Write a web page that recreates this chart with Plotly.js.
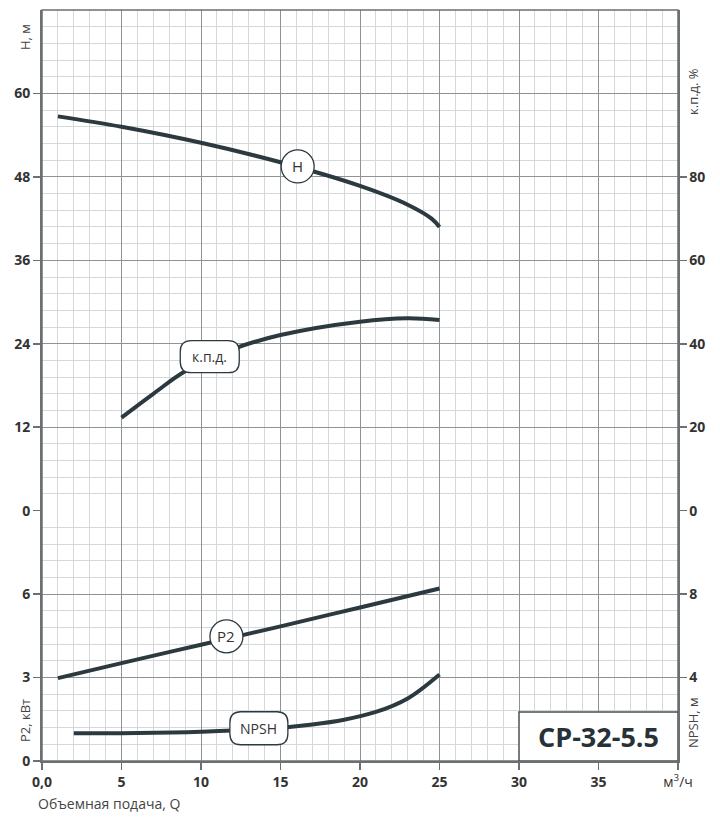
<!DOCTYPE html>
<html>
<head>
<meta charset="utf-8">
<script src="https://cdn.plot.ly/plotly-3.0.1.min.js"></script>
<style>
  html, body { margin: 0; padding: 0; background: #fff; }
  #chart { width: 720px; height: 820px; }
</style>
</head>
<body>
<div id="chart"></div>
<script>
// ---- data ----
const qH   = [1, 5, 10, 15, 20, 23, 24.5, 25];
const H    = [56.7, 55.2, 52.9, 50.1, 46.7, 44.0, 42.0, 40.8];

const qEff = [5, 7, 9, 12, 15, 20, 23, 25];
const eff  = [22.3, 28.0, 33.4, 38.7, 42.1, 45.3, 46.1, 45.7];

const qP2  = [1, 5, 10, 15, 20, 25];
const P2   = [2.98, 3.52, 4.18, 4.84, 5.52, 6.2];

const qNp  = [2, 6, 10, 14, 17, 19, 21, 23, 25];
const npsh = [1.33, 1.34, 1.40, 1.53, 1.75, 1.98, 2.35, 3.0, 4.15];

const xTickVals = [0, 5, 10, 15, 20, 25, 30, 35, 40];
const xTickText = ['<b>0,0</b>', '<b>5</b>', '<b>10</b>', '<b>15</b>', '<b>20</b>', '<b>25</b>', '<b>30</b>', '<b>35</b>', 'м<sup>3</sup>/ч'];
const hTicks    = [0, 12, 24, 36, 48, 60];
const p2Ticks   = [0, 3, 6];
const effTicks  = [0, 20, 40, 60, 80];
const npshTicks = [4, 8];

const modelName = 'CP-32-5.5';

// ---- styles ----
const LINE = '#2c3a40';
const MAJOR = '#8e9395';
const MINOR = '#d3d8da';
const TXT = '#333333';
const FONT = 'Open Sans, Noto Sans, sans-serif';

function curve(x, y, yaxis) {
  return { x: x, y: y, xaxis: 'x', yaxis: yaxis, mode: 'lines', type: 'scatter',
           line: { color: LINE, width: 4, shape: 'spline', smoothing: 1 },
           hoverinfo: 'skip', showlegend: false };
}

const traces = [
  curve(qH, H, 'y'),
  curve(qEff, eff, 'y3'),
  curve(qP2, P2, 'y2'),
  curve(qNp, npsh, 'y4')
];

const tickFont = { family: FONT, size: 14, color: TXT, weight: 700 };

const layout = {
  width: 720, height: 820,
  margin: { l: 42, r: 42, t: 10, b: 59 },
  paper_bgcolor: '#fff', plot_bgcolor: '#fff',
  font: { family: FONT, color: TXT },
  xaxis: {
    range: [0, 40], tickmode: 'array', tickvals: xTickVals, ticktext: xTickText,
    tickfont: { family: FONT, size: 14, color: TXT },
    showgrid: true, gridcolor: MAJOR, gridwidth: 1, zeroline: false,
    ticks: 'outside', ticklen: 7, tickcolor: '#6b7073', tickwidth: 1.5,
    showline: true, linecolor: '#6b7073', linewidth: 2,
    minor: { tickmode: 'linear', tick0: 0, dtick: 1, showgrid: true, gridcolor: MINOR, gridwidth: 1, ticks: '' },
    anchor: 'y2', fixedrange: true
  },
  yaxis: {
    domain: [1/3, 1], range: [0, 72], tickmode: 'array', tickvals: hTicks,
    tickfont: tickFont, showgrid: true, gridcolor: MAJOR, zeroline: false,
    ticks: 'outside', ticklen: 7, tickcolor: '#6b7073', tickwidth: 1.5,
    showline: true, linecolor: '#6b7073', linewidth: 2,
    minor: { tickmode: 'linear', tick0: 0, dtick: 2.4, showgrid: true, gridcolor: MINOR, gridwidth: 1, ticks: '' },
    anchor: 'x', fixedrange: true
  },
  yaxis2: {
    domain: [0, 1/3], range: [0, 9], tickmode: 'array', tickvals: p2Ticks,
    tickfont: tickFont, showgrid: true, gridcolor: MAJOR, zeroline: false,
    ticks: 'outside', ticklen: 7, tickcolor: '#6b7073', tickwidth: 1.5,
    showline: true, linecolor: '#6b7073', linewidth: 2,
    minor: { tickmode: 'linear', tick0: 0, dtick: 0.6, showgrid: true, gridcolor: MINOR, gridwidth: 1, ticks: '' },
    anchor: 'x', fixedrange: true
  },
  yaxis3: {
    overlaying: 'y', side: 'right', range: [0, 120], tickmode: 'array', tickvals: effTicks,
    tickfont: tickFont, showgrid: false, zeroline: false,
    ticks: 'outside', ticklen: 7, tickcolor: '#6b7073', tickwidth: 1.5,
    showline: true, linecolor: '#6b7073', linewidth: 1.5,
    anchor: 'x', fixedrange: true
  },
  yaxis4: {
    overlaying: 'y2', side: 'right', range: [0, 12], tickmode: 'array', tickvals: npshTicks,
    tickfont: tickFont, showgrid: false, zeroline: false,
    ticks: 'outside', ticklen: 7, tickcolor: '#6b7073', tickwidth: 1.5,
    showline: true, linecolor: '#6b7073', linewidth: 1.5,
    anchor: 'x', fixedrange: true
  },
  shapes: [],
  annotations: []
};

// frame
layout.shapes.push({ type: 'rect', xref: 'paper', yref: 'paper', x0: 0, x1: 1, y0: 0, y1: 1,
  line: { color: '#6b7073', width: 1.5 }, fillcolor: 'rgba(0,0,0,0)', layer: 'above' });

// model box
layout.shapes.push({ type: 'rect', xref: 'x', yref: 'y2', x0: 30, x1: 40, y0: 0, y1: 1.76,
  line: { color: '#4a5154', width: 1.5 }, fillcolor: '#ffffff', layer: 'above' });
layout.annotations.push({ xref: 'x', yref: 'y2', x: 35, y: 0.88, text: '<b>' + modelName + '</b>',
  showarrow: false, font: { family: FONT, size: 27, color: '#263238' } });

// curve labels
function circleLabel(x, y, yref, text, r) {
  layout.shapes.push({ type: 'circle', xref: 'x', yref: yref, xsizemode: 'pixel', ysizemode: 'pixel',
    xanchor: x, yanchor: y, x0: -r, x1: r, y0: -r, y1: r,
    line: { color: '#2c3a40', width: 1.3 }, fillcolor: '#ffffff', layer: 'above' });
  layout.annotations.push({ xref: 'x', yref: yref, x: x, y: y, text: text, showarrow: false,
    font: { family: FONT, size: 15, color: '#333' } });
}
function roundLabel(x, y, yref, text, w, h, rad) {
  const hw = w / 2, hh = h / 2;
  const p = `M ${-hw + rad},${-hh} L ${hw - rad},${-hh} Q ${hw},${-hh} ${hw},${-hh + rad} ` +
            `L ${hw},${hh - rad} Q ${hw},${hh} ${hw - rad},${hh} L ${-hw + rad},${hh} ` +
            `Q ${-hw},${hh} ${-hw},${hh - rad} L ${-hw},${-hh + rad} Q ${-hw},${-hh} ${-hw + rad},${-hh} Z`;
  layout.shapes.push({ type: 'path', xref: 'x', yref: yref, xsizemode: 'pixel', ysizemode: 'pixel',
    xanchor: x, yanchor: y, path: p,
    line: { color: '#2c3a40', width: 1.3 }, fillcolor: '#ffffff', layer: 'above' });
  layout.annotations.push({ xref: 'x', yref: yref, x: x, y: y, text: text, showarrow: false,
    font: { family: FONT, size: 14, color: '#333' } });
}
circleLabel(16.08, 49.5, 'y', 'H', 16.5);
circleLabel(11.6, 4.48, 'y2', 'P2', 16.5);
roundLabel(10.55, 36.9, 'y3', 'к.п.д.', 59, 32, 11);
roundLabel(13.64, 1.57, 'y4', 'NPSH', 58, 33, 11);

// axis titles
const tFont = { family: FONT, size: 13, color: '#444' };
layout.annotations.push(
  { xref: 'paper', yref: 'paper', x: -0.0267, y: (761 - 37) / 751, text: 'H, м', textangle: -90,
    showarrow: false, font: tFont, xanchor: 'center', yanchor: 'middle' },
  { xref: 'paper', yref: 'paper', x: -0.0267, y: (761 - 721) / 751, text: 'P2, кВт', textangle: -90,
    showarrow: false, font: tFont, xanchor: 'center', yanchor: 'middle' },
  { xref: 'paper', yref: 'paper', x: (693 - 42) / 636, y: (761 - 92) / 751, text: 'к.п.д. %', textangle: -90,
    showarrow: false, font: tFont, xanchor: 'center', yanchor: 'middle' },
  { xref: 'paper', yref: 'paper', x: (693 - 42) / 636, y: (761 - 723) / 751, text: 'NPSH, м', textangle: -90,
    showarrow: false, font: tFont, xanchor: 'center', yanchor: 'middle' },
  { xref: 'paper', yref: 'paper', x: (36 - 42) / 636, y: (761 - 803) / 751, text: 'Объемная подача, Q',
    showarrow: false, font: { family: FONT, size: 14, color: '#444' }, xanchor: 'left', yanchor: 'middle' }
);

Plotly.newPlot('chart', traces, layout, { displayModeBar: false, staticPlot: true });
</script>
</body>
</html>
